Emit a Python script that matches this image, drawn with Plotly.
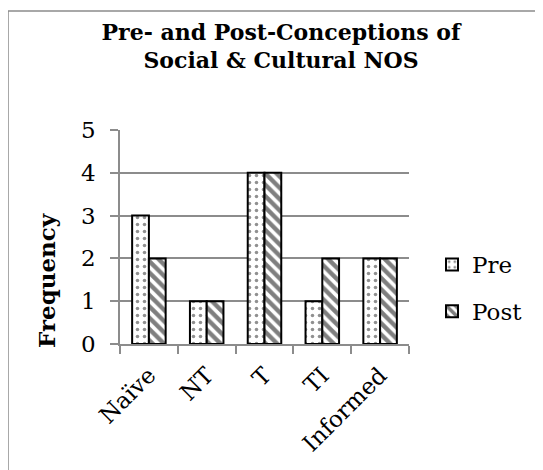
import plotly.graph_objects as go

categories = ["Naïve", "NT", "T", "TI", "Informed"]
pre_values = [3, 1, 4, 1, 2]
post_values = [2, 1, 4, 2, 2]
series_names = ["Pre", "Post"]
y_ticks = [0, 1, 2, 3, 4, 5]

SERIF = "DejaVu Serif"
GRID = "#8c8c8c"

fig = go.Figure()
fig.add_trace(go.Bar(
    x=categories, y=pre_values, name=series_names[0], legendgroup="a",
    marker=dict(color="white", line=dict(color="black", width=2),
                pattern=dict(shape=".", fgcolor="#222222", bgcolor="white", size=7, solidity=0.2)),
))
fig.add_trace(go.Bar(
    x=categories, y=post_values, name=series_names[1], legendgroup="b",
    marker=dict(color="white", line=dict(color="black", width=2),
                pattern=dict(shape="\\", fgcolor="black", bgcolor="white", size=8, solidity=0.55)),
))

# page body has an 8px margin, so work in reference pixels minus 8
OFF = 8
W, H = 543, 470
PL, PR, PT, PB = 120, 409, 130, 344  # plot area in reference pixels
L, T = PL - OFF, PT - OFF
pw, ph = PR - PL, PB - PT
R, B = W - L - pw, H - T - ph

def px2x(p):
    return (p - OFF - L) / pw

def py2y(p):
    return (T + ph - (p - OFF)) / ph

fig.update_layout(
    width=W, height=H,
    margin=dict(l=L, r=R, t=T, b=B, autoexpand=False),
    paper_bgcolor="white", plot_bgcolor="white",
    barmode="group", bargap=0.42, bargroupgap=0,
    font=dict(family=SERIF, size=23, color="black"),
    title=dict(text="<b>Pre- and Post-Conceptions of<br>Social & Cultural NOS</b>",
               x=(281 - OFF) / W, xanchor="center", y=1 - 31.5 / H, yanchor="top",
               yref="container", xref="container",
               font=dict(family=SERIF, size=22, color="black"), automargin=False),
    legend=dict(x=px2x(432), xanchor="left", y=py2y(243), yanchor="top",
                font=dict(size=23), tracegroupgap=14, itemwidth=30, traceorder="grouped",
                bgcolor="rgba(0,0,0,0)"),
    xaxis=dict(type="category", showline=True, linecolor=GRID, linewidth=1.5,
               ticks="outside", tickson="boundaries", ticklen=8, tickcolor=GRID, tickwidth=1.5,
               tickangle=-45, tickfont=dict(size=23), showgrid=False, automargin=False,
               ticklabelstandoff=7),
    yaxis=dict(range=[0, 5], tickvals=y_ticks, showline=True, linecolor=GRID, linewidth=1.5,
               ticks="outside", ticklen=8, tickcolor=GRID, tickwidth=1.5,
               showgrid=True, gridcolor=GRID, gridwidth=1.5, zeroline=False,
               tickfont=dict(size=23), ticklabelstandoff=10, automargin=False),
    annotations=[dict(text="<b>Frequency</b>", textangle=-90, xref="paper", yref="paper",
                      x=px2x(46), y=py2y(281), xanchor="center", yanchor="middle",
                      showarrow=False, font=dict(size=23))],
    shapes=[dict(type="rect", xref="paper", yref="paper",
                 x0=px2x(8), x1=px2x(700), y0=py2y(700), y1=py2y(11),
                 line=dict(color=GRID, width=1.5), fillcolor="rgba(0,0,0,0)", layer="below")],
)

fig.write_html("out.html")
